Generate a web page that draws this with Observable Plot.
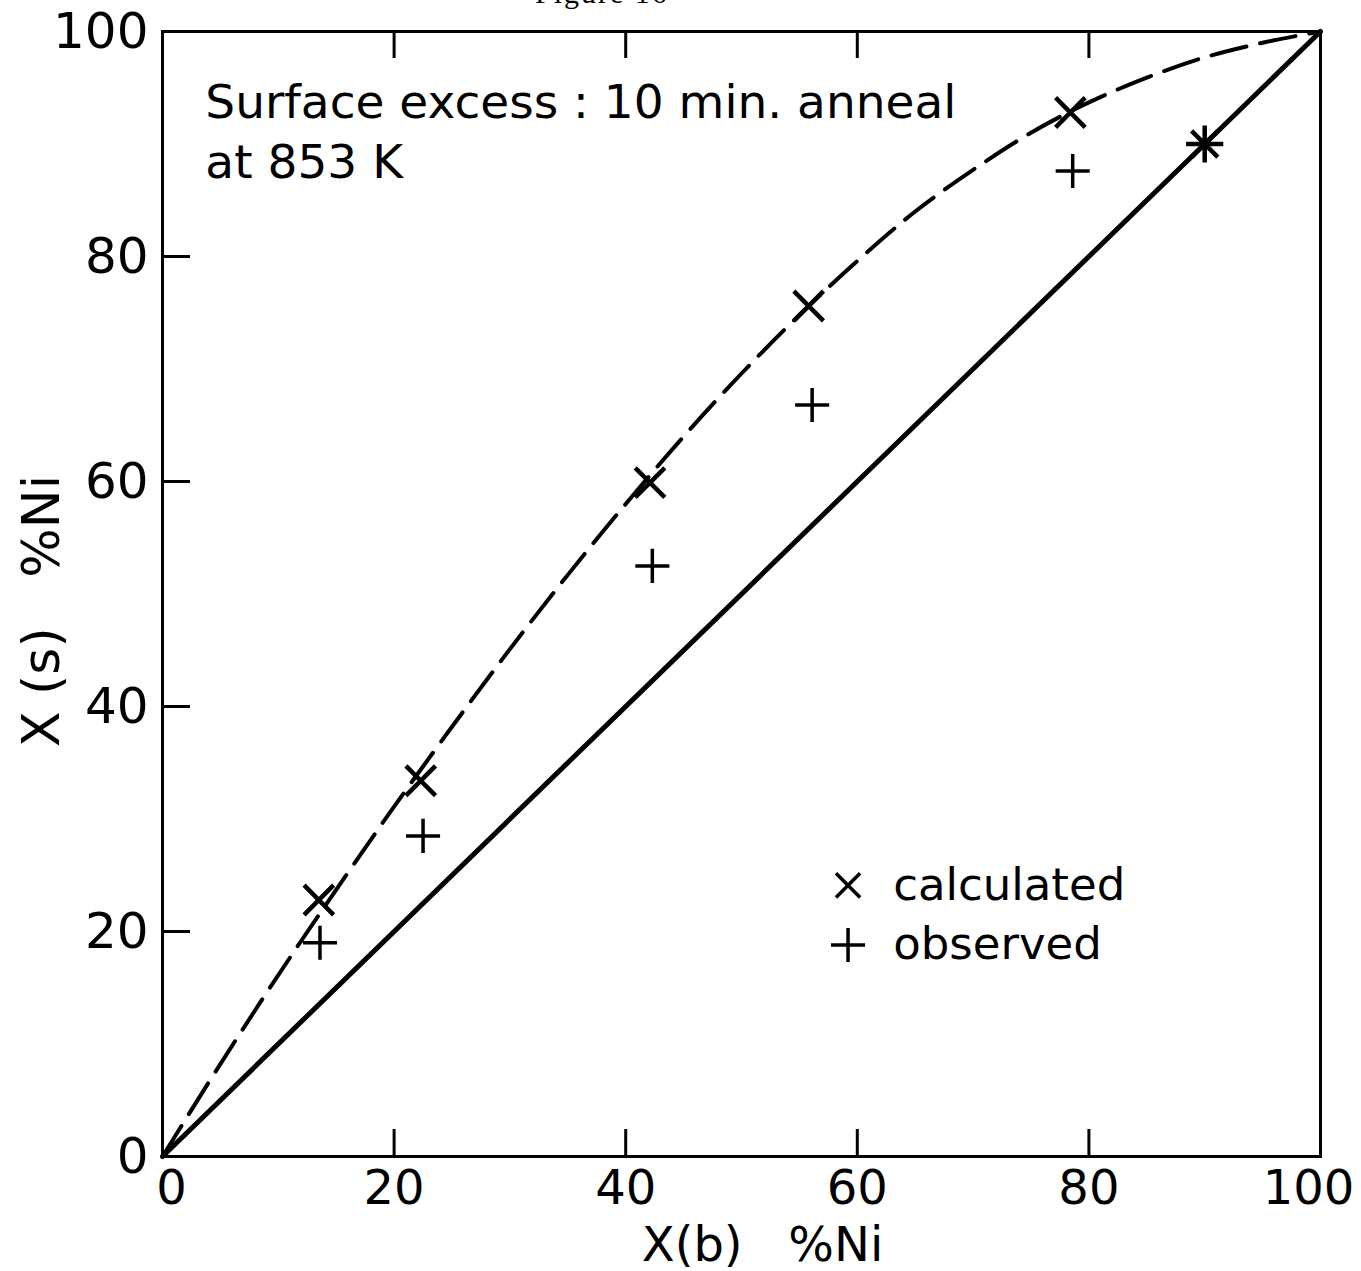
<!DOCTYPE html>
<html><head><meta charset="utf-8">
<script src="https://cdn.jsdelivr.net/npm/d3@7"></script>
<script src="https://cdn.jsdelivr.net/npm/@observablehq/plot@0.6"></script>
<style>
body{margin:0;background:#fff;}
#wrap{position:relative;width:1361px;height:1271px;}
#fig{position:absolute;left:535px;top:0;height:10px;overflow:hidden;font-family:"Liberation Serif",serif;font-size:30px;line-height:1;white-space:nowrap;}
#fig span{position:relative;top:-22px;letter-spacing:2px}
</style></head><body>
<div id="wrap"><div id="fig"><span>Figure 16</span></div></div>
<script>
// ---- data ----
const calcX = [13.5, 22.3, 42.1, 55.8, 78.4];
const calcY = [22.8, 33.4, 59.9, 75.6, 92.8];
const obsX  = [13.6, 22.5, 42.3, 56.1, 78.6];
const obsY  = [19.0, 28.5, 52.5, 66.8, 87.6];
const bothX = [90];   // calculated and observed coincide (asterisk)
const bothY = [90];
const curveX = [0, 4, 8, 12, 16, 20, 25, 30, 35, 40, 45, 50, 55, 60, 65, 70, 75, 80, 85, 90, 95, 100];
const curveY = [0, 6.6, 13.0, 19.2, 25.2, 31.1, 38.2, 45.1, 51.7, 58.0, 64.0, 69.6, 74.8, 79.6, 84.0, 87.7, 91.0, 93.7, 95.9, 97.7, 99.0, 100];
const diagX = [0, 100];
const diagY = [0, 100];
const xTicks = [0, 20, 40, 60, 80, 100];
const yTicks = [0, 20, 40, 60, 80, 100];
const innerTicks = [20, 40, 60, 80];
const noteLines = ["Surface excess : 10 min. anneal", "at 853 K"];
const legendLabels = ["calculated", "observed"];
const legendSymbols = ["times", "plus"];
const xLabel = "X(b)\u00a0\u00a0\u00a0%Ni";
const yLabel = "X\u00a0(s)\u00a0\u00a0\u00a0%Ni";

// ---- build ----
const calc = calcX.map((x, i) => ({x, y: calcY[i]}));
const obs = obsX.map((x, i) => ({x, y: obsY[i]}));
const both = bothX.map((x, i) => ({x, y: bothY[i]}));
const curve = curveX.map((x, i) => ({x, y: curveY[i]}));
const diag = diagX.map((x, i) => ({x, y: diagY[i]}));
const legend = legendLabels.map((label, i) => ({label, symbol: legendSymbols[i], i}));

const W = 1361, H = 1271;
const fL = 162, fR = 1320, fT = 31, fB = 1156;
const plotW = fR - fL, plotH = fB - fT;
const font = "'DejaVu Sans', sans-serif";
const xFirst = xTicks.slice(0, 1), xMid = xTicks.slice(1, -1), xLast = xTicks.slice(-1);

const chart = Plot.plot({
  width: W, height: H,
  marginLeft: fL, marginRight: W - fR, marginTop: fT, marginBottom: H - fB,
  x: {domain: [0, 100]},
  y: {domain: [0, 100]},
  style: {fontFamily: font, background: "white", color: "black"},
  marks: [
    Plot.axisX(xFirst, {tickSize: 0, tickPadding: 13, fontSize: 48, label: null, dx: 9}),
    Plot.axisX(xMid, {tickSize: 0, tickPadding: 13, fontSize: 48, label: null}),
    Plot.axisX(xLast, {tickSize: 0, tickPadding: 13, fontSize: 48, label: null, dx: -12}),
    Plot.axisY(yTicks, {tickSize: 0, tickPadding: 14, fontSize: 50, label: null}),
    Plot.ruleX(innerTicks, {x: d => d, insetTop: plotH - 27, strokeWidth: 3}),
    Plot.ruleX(innerTicks, {x: d => d, insetBottom: plotH - 27, strokeWidth: 3}),
    Plot.ruleY(innerTicks, {y: d => d, insetRight: plotW - 28, strokeWidth: 3}),
    Plot.frame({stroke: "black", strokeWidth: 3}),
    Plot.line(diag, {x: "x", y: "y", stroke: "black", strokeWidth: 5}),
    Plot.line(curve, {x: "x", y: "y", stroke: "black", strokeWidth: 4, strokeDasharray: "36,14", curve: "catmull-rom"}),
    Plot.dot(calc, {x: "x", y: "y", symbol: "times", r: 13.5, stroke: "black", strokeWidth: 4.5}),
    Plot.dot(obs, {x: "x", y: "y", symbol: "plus", r: 11, stroke: "black", strokeWidth: 3.5}),
    Plot.dot(both, {x: "x", y: "y", symbol: "times", r: 12, stroke: "black", strokeWidth: 4.5}),
    Plot.dot(both, {x: "x", y: "y", symbol: "plus", r: 12, stroke: "black", strokeWidth: 4.5}),
    Plot.text([noteLines.join("\n")], {x: 3.7, y: 96.1, text: d => d, textAnchor: "start", lineAnchor: "top", lineHeight: 1.28, fontSize: 47, fill: "black"}),
    Plot.dot(legend, {x: 59.2, y: d => 24.1 - d.i * 5.3, symbol: "symbol", r: 11, stroke: "black", strokeWidth: 3.5}),
    Plot.text(legend, {x: 63.1, y: d => 24.1 - d.i * 5.3, text: "label", textAnchor: "start", lineAnchor: "middle", fontSize: 45, fill: "black"}),
    Plot.text([xLabel], {frameAnchor: "bottom", text: d => d, textAnchor: "middle", dx: 21, dy: 89, lineAnchor: "middle", fontSize: 48, fill: "black"}),
    Plot.text([yLabel], {frameAnchor: "left", text: d => d, textAnchor: "middle", rotate: -90, dx: -120, dy: 17, lineAnchor: "middle", fontSize: 52, fill: "black"})
  ]
});
document.getElementById("wrap").appendChild(chart);
</script>
</body></html>
